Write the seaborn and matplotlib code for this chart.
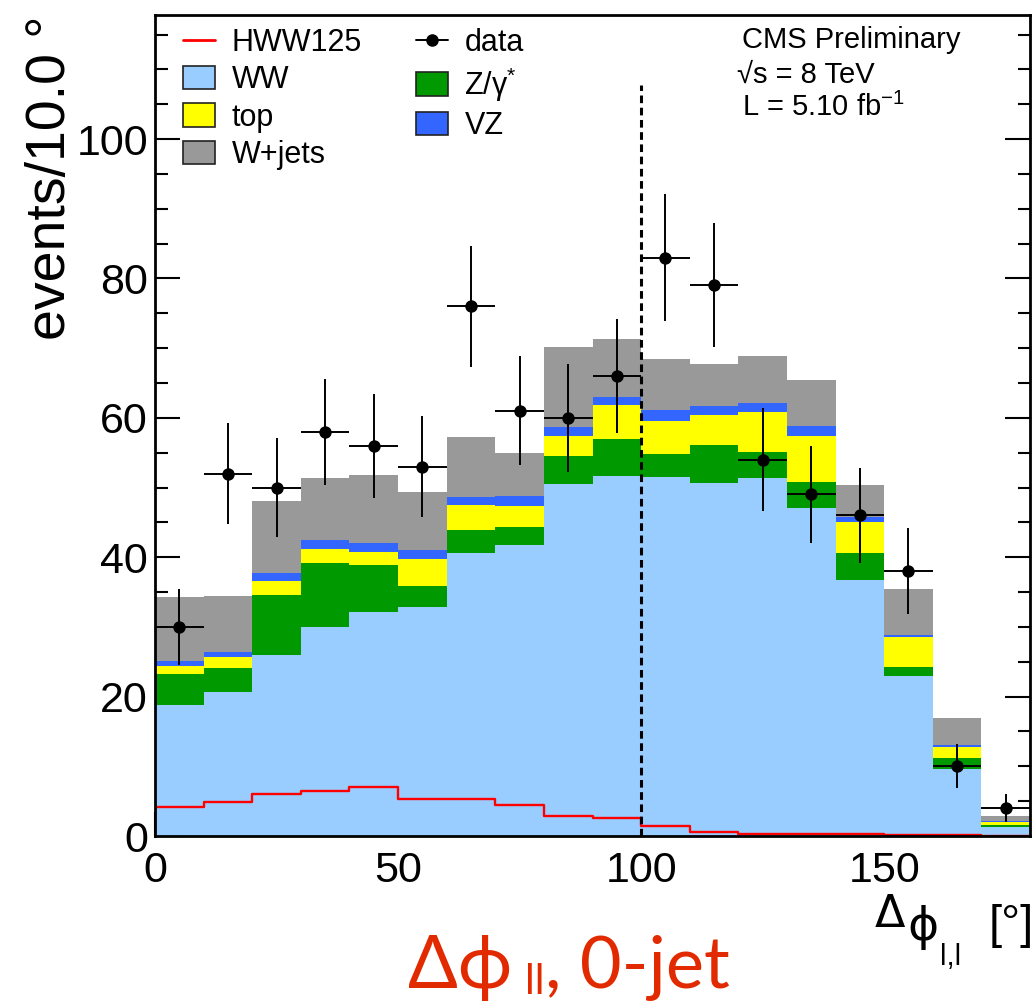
import numpy as np
import pandas as pd
import matplotlib
matplotlib.use("Agg")
import matplotlib.pyplot as plt
import seaborn as sns
from matplotlib.patches import Patch
from matplotlib.lines import Line2D
from matplotlib.ticker import MultipleLocator

# Binning of the dilepton azimuthal opening angle (degrees)
bin_width = 10
x_range = (0, 180)
bin_centers = np.arange(x_range[0], x_range[1], bin_width) + bin_width / 2

# Expected background yields per bin (stacked in this order, bottom first)
ww = [18.8, 20.6, 25.9, 30.0, 32.2, 32.8, 40.6, 41.8, 50.5, 51.7, 51.5, 50.6, 51.4, 47.0, 36.7, 22.9, 9.6, 1.3]
zgamma = [4.4, 3.5, 8.7, 9.1, 6.7, 3.1, 3.3, 2.5, 4.0, 5.3, 3.3, 5.5, 3.7, 3.8, 3.9, 1.4, 1.6, 0.3]
top = [1.2, 1.6, 2.0, 2.1, 1.9, 3.8, 3.6, 3.1, 2.9, 4.8, 4.8, 4.3, 5.7, 6.6, 4.4, 4.2, 1.5, 0.4]
vz = [0.7, 0.7, 1.1, 1.2, 1.2, 1.3, 1.1, 1.4, 1.3, 1.2, 1.5, 1.3, 1.3, 1.4, 0.7, 0.4, 0.4, 0.1]
wjets = [9.2, 8.0, 10.3, 9.0, 9.8, 8.3, 8.7, 6.1, 11.4, 8.3, 7.3, 6.0, 6.8, 6.7, 4.7, 6.6, 3.9, 0.7]

# Higgs signal (mH = 125 GeV), drawn unstacked
hww125 = [4.1, 4.9, 6.0, 6.5, 7.1, 5.3, 5.3, 4.4, 2.8, 2.6, 1.5, 0.6, 0.35, 0.35, 0.3, 0.2, 0.1, 0.05]

# Observed events
data = [30, 52, 50, 58, 56, 53, 76, 61, 60, 66, 83, 79, 54, 49, 46, 38, 10, 4]

process_names = ["WW", "Z/γ*", "top", "VZ", "W+jets"]
process_colors = {"WW": "#99ccff", "Z/γ*": "#009900", "top": "#ffff00",
                  "VZ": "#3366ff", "W+jets": "#999999"}

cut_value = 100
cut_line_top = 107.7
y_max = 117.8

sns.set_style("ticks")
plt.rcParams["font.family"] = ["Liberation Sans", "DejaVu Sans"]
plt.rcParams["axes.linewidth"] = 2.0
for key in ("text.color", "axes.labelcolor", "xtick.color", "ytick.color",
            "axes.edgecolor"):
    plt.rcParams[key] = "black"

W, H = 1036, 1002
fig = plt.figure(figsize=(W / 100, H / 100), dpi=100)
ax = fig.add_axes([155 / W, 1 - 836 / H, 875 / W, 821 / H])

bkg = pd.DataFrame({
    "dphi": np.tile(bin_centers, len(process_names)),
    "events": np.concatenate([ww, zgamma, top, vz, wjets]),
    "process": np.repeat(process_names, len(bin_centers)),
})

sns.histplot(data=bkg, x="dphi", weights="events", hue="process",
             hue_order=process_names[::-1], palette=process_colors,
             binwidth=bin_width, binrange=x_range, multiple="stack",
             element="step", fill=True, alpha=1.0, linewidth=0,
             legend=False, ax=ax)

sig = pd.DataFrame({"dphi": bin_centers, "events": hww125})
sns.histplot(data=sig, x="dphi", weights="events", binwidth=bin_width,
             binrange=x_range, element="step", fill=False, color="#ff0000",
             linewidth=1.7, ax=ax)

ax.errorbar(bin_centers, data, xerr=bin_width / 2, yerr=np.sqrt(data),
            fmt="none", ecolor="black", elinewidth=1.4, capsize=0, zorder=5)
sns.scatterplot(x=bin_centers, y=data, color="black", s=80, edgecolor="black",
                linewidth=0, zorder=6, ax=ax)

ax.plot([cut_value, cut_value], [0, cut_line_top], color="black",
        linewidth=2.2, linestyle=(0, (2.5, 1.5)), zorder=7)

ax.set_xlim(*x_range)
ax.set_ylim(0, y_max)
ax.xaxis.set_major_locator(MultipleLocator(50))
ax.xaxis.set_minor_locator(MultipleLocator(10))
ax.yaxis.set_major_locator(MultipleLocator(20))
ax.yaxis.set_minor_locator(MultipleLocator(5))
ax.tick_params(which="both", direction="in", right=True, top=False,
               width=1.5, labelsize=31, color="black", labelcolor="black")
ax.tick_params(axis="y", which="major", length=18, pad=5)
ax.tick_params(axis="y", which="minor", length=9)
ax.tick_params(axis="x", which="major", length=17, pad=11)
ax.tick_params(axis="x", which="minor", length=8)
for s in ax.spines.values():
    s.set_visible(True)
    s.set_color("black")
ax.set_xlabel("")
ax.set_ylabel("events/10.0 °", fontsize=40, loc="top", color="black")
ax.yaxis.set_label_coords(-0.089, 1.0)

# Legend
box_edge = dict(edgecolor="#222222", linewidth=1.2)
handles = [
    Line2D([], [], color="#ff0000", linewidth=2.0),
    Patch(facecolor=process_colors["WW"], **box_edge),
    Patch(facecolor=process_colors["top"], **box_edge),
    Patch(facecolor=process_colors["W+jets"], **box_edge),
    Line2D([], [], color="black", linewidth=1.4, marker="o", markersize=8),
    Patch(facecolor=process_colors["Z/γ*"], **box_edge),
    Patch(facecolor=process_colors["VZ"], **box_edge),
]
labels = ["HWW125", "WW", "top", "W+jets", "data",
          "Z/γ$^{\\mathregular{*}}$", "VZ"]
ax.legend(handles, labels, ncol=2, frameon=False, fontsize=22,
          loc="upper left", bbox_to_anchor=(183 / W, 1 - 28 / H),
          bbox_transform=fig.transFigure, handlelength=1.05,
          handleheight=0.8, handletextpad=0.55, labelspacing=0.24,
          columnspacing=1.75, borderpad=0, borderaxespad=0)

# Run information
info_kw = dict(fontsize=21, ha="left", va="center", color="black")
fig.text(742 / W, 1 - 40 / H, "CMS Preliminary", **info_kw)
fig.text(737 / W, 1 - 75 / H, "√s = 8 TeV", **info_kw)
fig.text(742 / W, 1 - 107 / H, "L = 5.10 fb$^{\\mathregular{-1}}$", **info_kw)

# Axis title at the lower right
fig.text(875 / W, 1 - 927 / H, "Δ", fontsize=32, ha="left", va="baseline",
         family="DejaVu Sans")
fig.text(907 / W, 1 - 940 / H, "ϕ", fontsize=34, ha="left", va="baseline",
         family="DejaVu Sans")
fig.text(940 / W, 1 - 965 / H, "l,l", fontsize=21, ha="left", va="baseline")
fig.text(1034 / W, 1 - 938 / H, "[°]", fontsize=34, ha="right",
         va="baseline")

# Channel caption
cap_kw = dict(color="#e22a00", family=["Lato", "Open Sans", "DejaVu Sans"],
              va="baseline")
fig.text(408 / W, 1 - 988 / H, "Δϕ", fontsize=53, **cap_kw)
fig.text(525 / W, 1 - 994 / H, "ll", fontsize=30, **cap_kw)
fig.text(545 / W, 1 - 988 / H, ", 0-jet", fontsize=52, **cap_kw)

fig.savefig("out.png", dpi=100)
